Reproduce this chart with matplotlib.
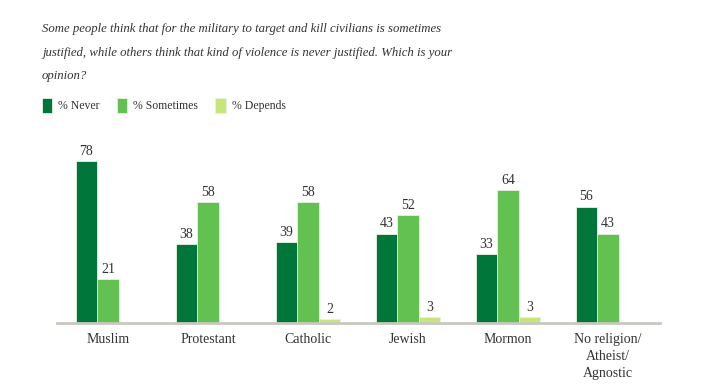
import numpy as np
import matplotlib
matplotlib.use("Agg")
import matplotlib.pyplot as plt

categories = ["Muslim", "Protestant", "Catholic", "Jewish", "Mormon",
              "No religion/\nAtheist/\nAgnostic"]
never = [78, 38, 39, 43, 33, 56]
sometimes = [21, 58, 58, 52, 64, 43]
depends = [None, None, 2, 3, 3, None]

series = [("% Never", never, "#00763a"),
          ("% Sometimes", sometimes, "#62c150"),
          ("% Depends", depends, "#c6e67a")]

title = ("Some people think that for the military to target and kill civilians is sometimes\n"
         "justified, while others think that kind of violence is never justified. Which is your\n"
         "opinion?")

plt.rcParams["font.family"] = ["Liberation Serif", "DejaVu Serif"]
txt = "#333333"

fig = plt.figure(figsize=(7.14, 3.92), dpi=100)
ax = fig.add_axes([57 / 714, 69 / 392, 603 / 714, 208 / 392])

x = np.arange(len(categories))
w = 0.215
handles = []
for i, (name, vals, color) in enumerate(series):
    xs = [xi + (i - 1) * w for xi, v in zip(x, vals) if v is not None]
    vs = [v for v in vals if v is not None]
    bars = ax.bar(xs, vs, width=w, color=color, edgecolor="#e8f3e0",
                  linewidth=0.6, label=name, zorder=2)
    handles.append(bars)
    for xi, v in zip(xs, vs):
        ax.text(xi, v + 1.5, str(v), ha="center", va="bottom",
                fontsize=10, color=txt)

ax.set_xlim(-0.51, 5.52)
ax.set_ylim(0, 100)
ax.set_xticks(x)
ax.set_xticklabels(categories, fontsize=10, color=txt, linespacing=1.4,
                   va="top")
ax.tick_params(axis="x", length=0, pad=7)
ax.set_yticks([])
for s in ["top", "right", "left"]:
    ax.spines[s].set_visible(False)
ax.spines["bottom"].set_color("#c8c8c0")
ax.spines["bottom"].set_linewidth(2)

fig.text(42 / 714, 1 - 23 / 392, title, ha="left", va="top", fontsize=9.2,
         style="italic", color=txt, linespacing=2.3)

fig.legend(handles=handles, loc="upper left",
           bbox_to_anchor=(31 / 714, 1 - 87 / 392), ncol=3, frameon=False,
           fontsize=8.5, handlelength=0.9, handleheight=1.6,
           handletextpad=0.5, columnspacing=1.45, labelcolor=txt)

fig.savefig("out.png", dpi=100)
